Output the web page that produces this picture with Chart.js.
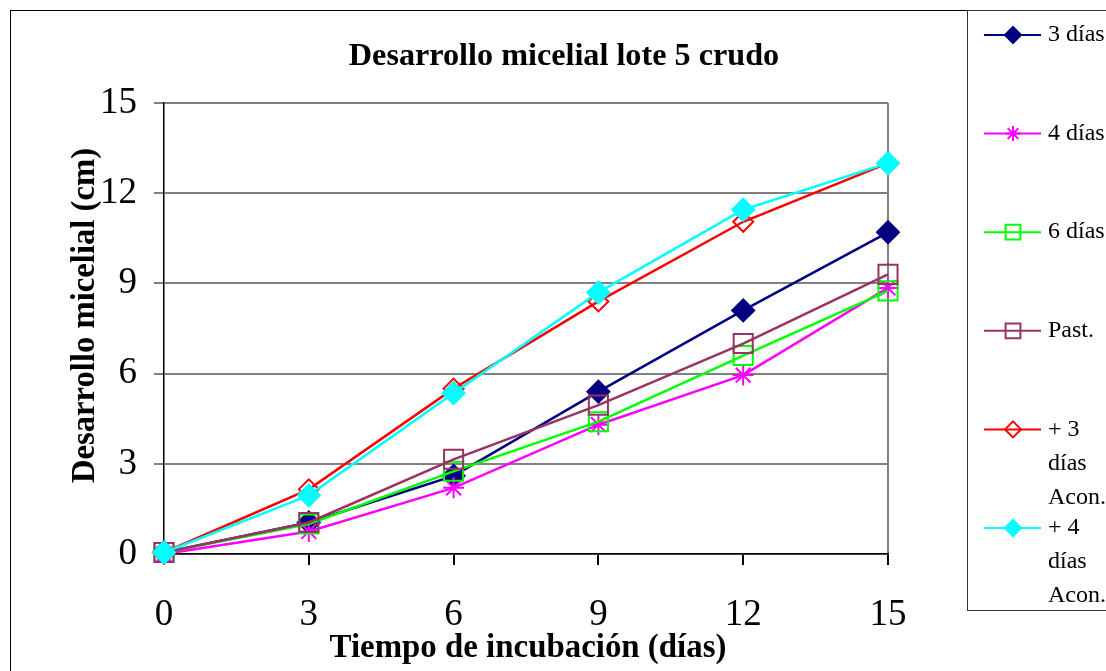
<!DOCTYPE html>
<html>
<head>
<meta charset="utf-8">
<script src="https://cdn.jsdelivr.net/npm/chart.js@4.4.1/dist/chart.umd.min.js"></script>
<style>
  html, body { margin: 0; padding: 0; background: #fff; }
  #wrap { width: 1106px; height: 671px; position: relative; }
</style>
</head>
<body>
<div id="wrap"><canvas id="chart" width="1106" height="671"></canvas></div>
<script>
// ---------------------------
// Data
// ---------------------------
const days = [0, 3, 6, 9, 12, 15];
const seriesNames = ["3 días", "4 días", "6 días", "Past.", "+ 3 días Acon.", "+ 4 días Acon."];
const dias3  = [0.05, 1.05, 2.6, 5.4, 8.1, 10.7];
const dias4  = [0.0, 0.75, 2.2, 4.3, 5.95, 8.85];
const dias6  = [0.05, 1.0, 2.75, 4.4, 6.6, 8.75];
const past   = [0.05, 1.05, 3.15, 4.95, 7.0, 9.3];
const acon3  = [0.05, 2.15, 5.5, 8.4, 11.05, 13.0];
const acon4  = [0.05, 1.95, 5.35, 8.7, 11.45, 13.0];

const chartTitle = "Desarrollo micelial lote 5 crudo";
const xTitle = "Tiempo de incubación (días)";
const yTitle = "Desarrollo micelial (cm)";

const FONT = '"Liberation Serif", "DejaVu Serif", serif';

// ---------------------------
// Series styles
// ---------------------------
function series(label, values, color, style, radius, fill, order) {
  return {
    label,
    data: days.map((d, i) => ({ x: d, y: values[i] })),
    borderColor: color,
    borderWidth: 2.5,
    tension: 0,
    pointStyle: style,
    pointRadius: radius,
    pointHoverRadius: radius,
    pointBackgroundColor: fill,
    pointBorderColor: color,
    pointBorderWidth: 2,
    clip: false,
    order
  };
}

const datasets = [
  series(seriesNames[0], dias3, "#000080", "rectRot", 11, "#000080", 5),
  series(seriesNames[1], dias4, "#FF00FF", "star", 10.5, "rgba(0,0,0,0)", 4),
  series(seriesNames[2], dias6, "#00FF00", "rect", 13.5, "rgba(0,0,0,0)", 3),
  series(seriesNames[3], past,  "#993366", "rect", 13.5, "rgba(0,0,0,0)", 2),
  series(seriesNames[4], acon3, "#FF0000", "rectRot", 10, "rgba(0,0,0,0)", 1),
  series(seriesNames[5], acon4, "#00FFFF", "rectRot", 11, "#00FFFF", 0)
];

const legendRadius = { rectRot: 8, star: 7.5, rect: 10.5 };

// bold text fitted to the width it has in the picture
function fitText(ctx, text, width, x, y) {
  ctx.font = "bold 30px " + FONT;
  const size = 30 * width / ctx.measureText(text).width;
  ctx.font = "bold " + size.toFixed(1) + "px " + FONT;
  ctx.fillText(text, x, y);
}

// ---------------------------
// Titles, frame and legend
// ---------------------------
const decor = {
  id: "decor",
  beforeDraw(chart) {
    const ctx = chart.ctx;
    ctx.save();
    ctx.fillStyle = "#fff";
    ctx.fillRect(0, 0, chart.width, chart.height);
    ctx.strokeStyle = "#000";
    ctx.lineWidth = 1;
    ctx.strokeRect(10.5, 10.5, 1200, 700);
    ctx.restore();
  },
  afterDraw(chart) {
    const ctx = chart.ctx;
    ctx.save();
    ctx.fillStyle = "#000";
    ctx.textAlign = "center";
    ctx.textBaseline = "alphabetic";
    fitText(ctx, chartTitle, 430, 564, 65);
    fitText(ctx, xTitle, 397, 528, 657);
    ctx.translate(94, 315.5);
    ctx.rotate(-Math.PI / 2);
    fitText(ctx, yTitle, 335, 0, 0);
    ctx.restore();

    // legend box
    ctx.save();
    ctx.strokeStyle = "#333";
    ctx.lineWidth = 1;
    ctx.strokeRect(967.5, 10.5, 200, 600);
    ctx.font = "24px " + FONT;
    ctx.textAlign = "left";
    ctx.textBaseline = "middle";
    chart.data.datasets.forEach((ds, i) => {
      const cy = 35 + i * 98.6;
      ctx.strokeStyle = ds.borderColor;
      ctx.lineWidth = 2;
      ctx.beginPath();
      ctx.moveTo(984, cy);
      ctx.lineTo(1041, cy);
      ctx.stroke();
      ctx.fillStyle = ds.pointBackgroundColor;
      ctx.strokeStyle = ds.pointBorderColor;
      Chart.helpers.drawPoint(ctx, {
        pointStyle: ds.pointStyle,
        radius: legendRadius[ds.pointStyle],
        rotation: 0,
        borderWidth: 2
      }, 1013, cy);

      // word wrap the label
      ctx.fillStyle = "#000";
      const words = ds.label.split(" ");
      const lines = [];
      let cur = "";
      words.forEach(w => {
        const test = cur ? cur + " " + w : w;
        if (cur && ctx.measureText(test).width > 62) { lines.push(cur); cur = w; }
        else cur = test;
      });
      if (cur) lines.push(cur);
      lines.forEach((ln, k) => ctx.fillText(ln, 1048, cy + k * 34));
    });
    ctx.restore();
  }
};

// ---------------------------
// Chart
// ---------------------------
new Chart(document.getElementById("chart"), {
  type: "line",
  data: { datasets },
  plugins: [decor],
  options: {
    responsive: false,
    animation: false,
    events: [],
    layout: { padding: { left: 0, top: 103, right: 1106 - 888, bottom: 0 } },
    plugins: { legend: { display: false }, tooltip: { enabled: false }, title: { display: false } },
    scales: {
      x: {
        type: "linear",
        min: 0, max: 15,
        afterFit: s => { s.height = 671 - 554; },
        afterBuildTicks: s => { s.ticks = days.map(v => ({ value: v })); },
        ticks: { font: { family: FONT, size: 37 }, color: "#000", padding: 28 },
        grid: {
          drawOnChartArea: true,
          color: c => (c.tick && c.tick.value === 15 ? "#808080" : "rgba(0,0,0,0)"),
          tickColor: "#000",
          tickLength: 11,
          lineWidth: 2
        },
        border: { color: "#000", width: 1.5 }
      },
      y: {
        min: 0, max: 15,
        afterFit: s => { s.width = 164; },
        ticks: { stepSize: 3, font: { family: FONT, size: 37 }, color: "#000", padding: 17 },
        grid: { color: "#808080", tickColor: "#808080", tickLength: 10, lineWidth: 2 },
        border: { color: "#000", width: 1.5 }
      }
    }
  }
});
</script>
</body>
</html>
